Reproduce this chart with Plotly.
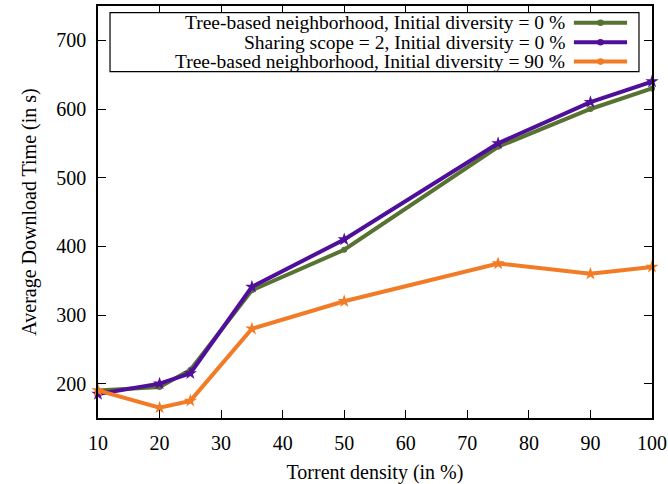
import plotly.graph_objects as go

density = [10, 20, 25, 35, 50, 75, 90, 100]
tree_div0 = [190, 195, 220, 336, 395, 545, 600, 630]
scope2_div0 = [185, 200, 215, 341, 410, 550, 610, 640]
tree_div90 = [190, 165, 175, 280, 320, 375, 360, 370]

names = [
    "Tree-based neighborhood, Initial diversity = 0 %",
    "Sharing scope = 2, Initial diversity = 0 %",
    "Tree-based neighborhood, Initial diversity = 90 %",
]
colors = ["#587231", "#4f0f9b", "#f27b25"]
symbols = ["circle", "star", "star"]
msizes = [6, 10, 10]
series = [tree_div0, scope2_div0, tree_div90]

FONT = "Liberation Serif"
FS = 20
fig = go.Figure()
for s, n, c, sym, ms in zip(series, names, colors, symbols, msizes):
    fig.add_trace(go.Scatter(
        x=density, y=s, mode="lines+markers", name=n,
        line=dict(color=c, width=4),
        marker=dict(symbol=sym, size=ms, color=c, line=dict(width=0)),
        showlegend=False, cliponaxis=False,
    ))

axis_common = dict(
    showgrid=False, zeroline=False, showline=True, linecolor="black", linewidth=1.5,
    mirror="allticks", ticks="inside", ticklen=8, tickcolor="black", automargin=False,
    tickfont=dict(family=FONT, size=FS, color="black"), ticklabelstandoff=6,
)
fig.update_xaxes(range=[10, 100], tickvals=[10, 20, 30, 40, 50, 60, 70, 80, 90, 100],
                 title=dict(text="Torrent density (in %)", font=dict(family=FONT, size=FS, color="black"), standoff=12),
                 **axis_common)
fig.update_yaxes(range=[150, 750], tickvals=[200, 300, 400, 500, 600, 700],
                 title=dict(text="Average Download Time (in s)", font=dict(family=FONT, size=FS, color="black"), standoff=14),
                 **axis_common)

# manual legend (gnuplot style: text right-aligned, sample on the right)
shapes = [dict(type="rect", xref="paper", yref="paper", x0=0.0217, x1=0.9765, y0=0.8405, y1=0.9837,
               line=dict(color="black", width=1.2), fillcolor="white", layer="above")]
annotations = []
rows = [0.9595, 0.9121, 0.8650]
for n, c, yy in zip(names, colors, rows):
    shapes.append(dict(type="line", xref="paper", yref="paper", x0=0.859, x1=0.955, y0=yy, y1=yy,
                       line=dict(color=c, width=4), layer="above"))
    shapes.append(dict(type="circle", xref="paper", yref="paper", x0=0.907 - 0.006, x1=0.907 + 0.006,
                       y0=yy - 0.008, y1=yy + 0.008, fillcolor=c, line=dict(color=c, width=0), layer="above"))
    annotations.append(dict(xref="paper", yref="paper", x=0.8466, y=yy, text=n, showarrow=False,
                            xanchor="right", yanchor="middle",
                            font=dict(family=FONT, size=19.5, color="black")))

fig.update_layout(
    width=668, height=484,
    margin=dict(l=98, r=16, t=6, b=66),
    paper_bgcolor="white", plot_bgcolor="white",
    shapes=shapes, annotations=annotations,
    showlegend=False,
)
fig.write_html("out.html", config={"displayModeBar": False},
               post_script="document.body.style.margin='0';document.body.style.overflow='hidden';")
